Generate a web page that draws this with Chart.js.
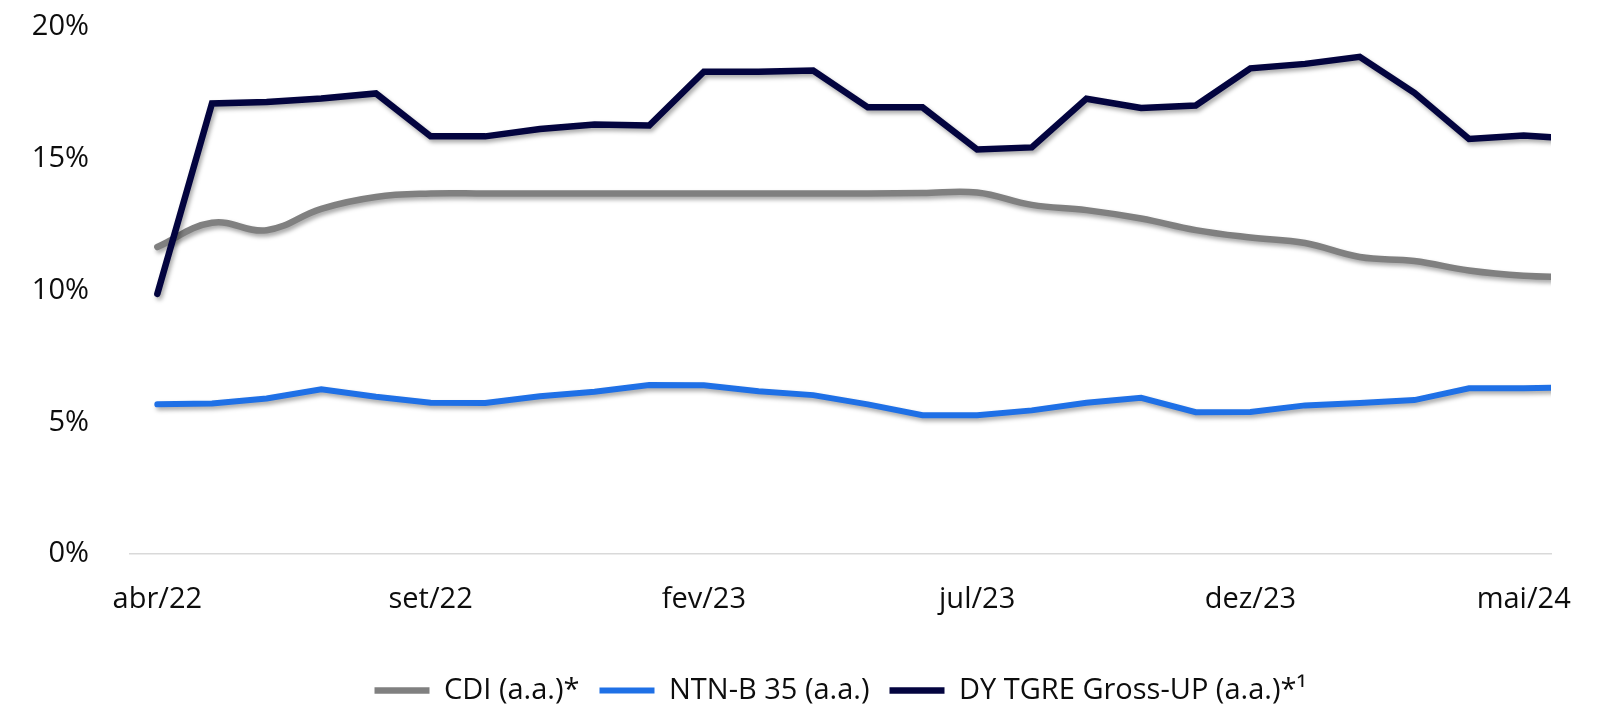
<!DOCTYPE html>
<html>
<head>
<meta charset="utf-8">
<script src="https://cdn.jsdelivr.net/npm/chart.js@4"></script>
<style>
  html, body { margin: 0; padding: 0; background: #ffffff; }
  #wrap { width: 1607px; height: 705px; position: relative; }
</style>
</head>
<body>
<div id="wrap"><canvas id="c"></canvas></div>
<script>
const months = ["abr/22","mai/22","jun/22","jul/22","ago/22","set/22","out/22","nov/22","dez/22",
  "jan/23","fev/23","mar/23","abr/23","mai/23","jun/23","jul/23","ago/23","set/23","out/23","nov/23","dez/23",
  "jan/24","fev/24","mar/24","abr/24","mai/24","jun/24"];
const lastVisibleMonth = "mai/24";

const cdi = [11.65, 12.57, 12.29, 13.10, 13.55, 13.68, 13.68, 13.68, 13.68, 13.68, 13.68, 13.68, 13.68, 13.68,
  13.70, 13.72, 13.25, 13.05, 12.73, 12.29, 12.01, 11.80, 11.27, 11.12, 10.76, 10.56, 10.50];
const ntnb35 = [5.68, 5.71, 5.90, 6.25, 5.97, 5.74, 5.73, 5.99, 6.16, 6.41, 6.40, 6.18, 6.03, 5.68,
  5.27, 5.27, 5.45, 5.74, 5.93, 5.38, 5.39, 5.64, 5.73, 5.84, 6.29, 6.29, 6.33];
const dyTgre = [9.87, 17.10, 17.15, 17.29, 17.48, 15.85, 15.85, 16.13, 16.30, 16.26, 18.30, 18.30, 18.35,
  16.95, 16.95, 15.35, 15.43, 17.28, 16.93, 17.02, 18.43, 18.60, 18.87, 17.50, 15.75, 15.88, 15.76];

const seriesNames = ["CDI (a.a.)*", "NTN-B 35 (a.a.)", "DY TGRE Gross-UP (a.a.)*\u00B9"];
const yTicks = [0, 5, 10, 15, 20];

const FONT = "'Open Sans', 'Noto Sans', sans-serif";

const shadowPlugin = {
  id: 'lineShadow',
  beforeDatasetsDraw(chart) {
    const ctx = chart.ctx;
    ctx.save();
    ctx.shadowColor = 'rgba(0,0,0,0.34)';
    ctx.shadowBlur = 4;
    ctx.shadowOffsetX = 2;
    ctx.shadowOffsetY = 3;
  },
  afterDatasetsDraw(chart) {
    chart.ctx.restore();
  }
};

new Chart(document.getElementById('c'), {
  type: 'line',
  data: {
    labels: months,
    datasets: [
      { label: seriesNames[0], data: cdi, borderColor: '#808080', backgroundColor: '#808080',
        borderWidth: 6.5, tension: 0.4, order: 2, clip: 0 },
      { label: seriesNames[1], data: ntnb35, borderColor: '#1F70E6', backgroundColor: '#1F70E6',
        borderWidth: 6, tension: 0, order: 1, clip: 0 },
      { label: seriesNames[2], data: dyTgre, borderColor: '#03043F', backgroundColor: '#03043F',
        borderWidth: 6.5, tension: 0, order: 0, clip: 0 }
    ]
  },
  options: {
    responsive: true,
    maintainAspectRatio: false,
    animation: false,
    layout: { padding: { top: 27, right: 56, left: 0, bottom: -10 } },
    elements: {
      point: { radius: 0, hoverRadius: 0 },
      line: { borderCapStyle: 'round', borderJoinStyle: 'miter', fill: false }
    },
    scales: {
      x: {
        type: 'category',
        offset: true,
        afterDataLimits: (s) => { s.max = months.indexOf(lastVisibleMonth); },
        grid: { display: false },
        border: { display: true, color: '#D9D9D9', width: 1.5 },
        ticks: {
          autoSkip: false, maxRotation: 0, minRotation: 0, padding: 20,
          color: '#0D0D0D', font: { family: FONT, size: 29 },
          callback: function(v, i) { return i % 5 === 0 ? this.getLabelForValue(v) : null; }
        },
        afterFit: (s) => { s.height = 102; }
      },
      y: {
        min: 0, max: 20,
        grid: { display: false },
        border: { display: false },
        afterBuildTicks: (s) => { s.ticks = yTicks.map(v => ({ value: v })); },
        ticks: {
          padding: 33, color: '#0D0D0D', font: { family: FONT, size: 29 },
          callback: (v) => v + '%'
        },
        afterFit: (s) => { s.width = 130; s.paddingTop = 0; s.paddingBottom = 0; }
      }
    },
    plugins: {
      legend: {
        position: 'bottom',
        fullSize: false,
        labels: {
          usePointStyle: true,
          pointStyle: 'line',
          pointStyleWidth: 55,
          padding: 20,
          color: '#0D0D0D',
          font: { family: FONT, size: 29 },
          sort: (a, b) => a.datasetIndex - b.datasetIndex
        }
      },
      tooltip: { enabled: false }
    }
  },
  plugins: [shadowPlugin]
});
</script>
</body>
</html>
